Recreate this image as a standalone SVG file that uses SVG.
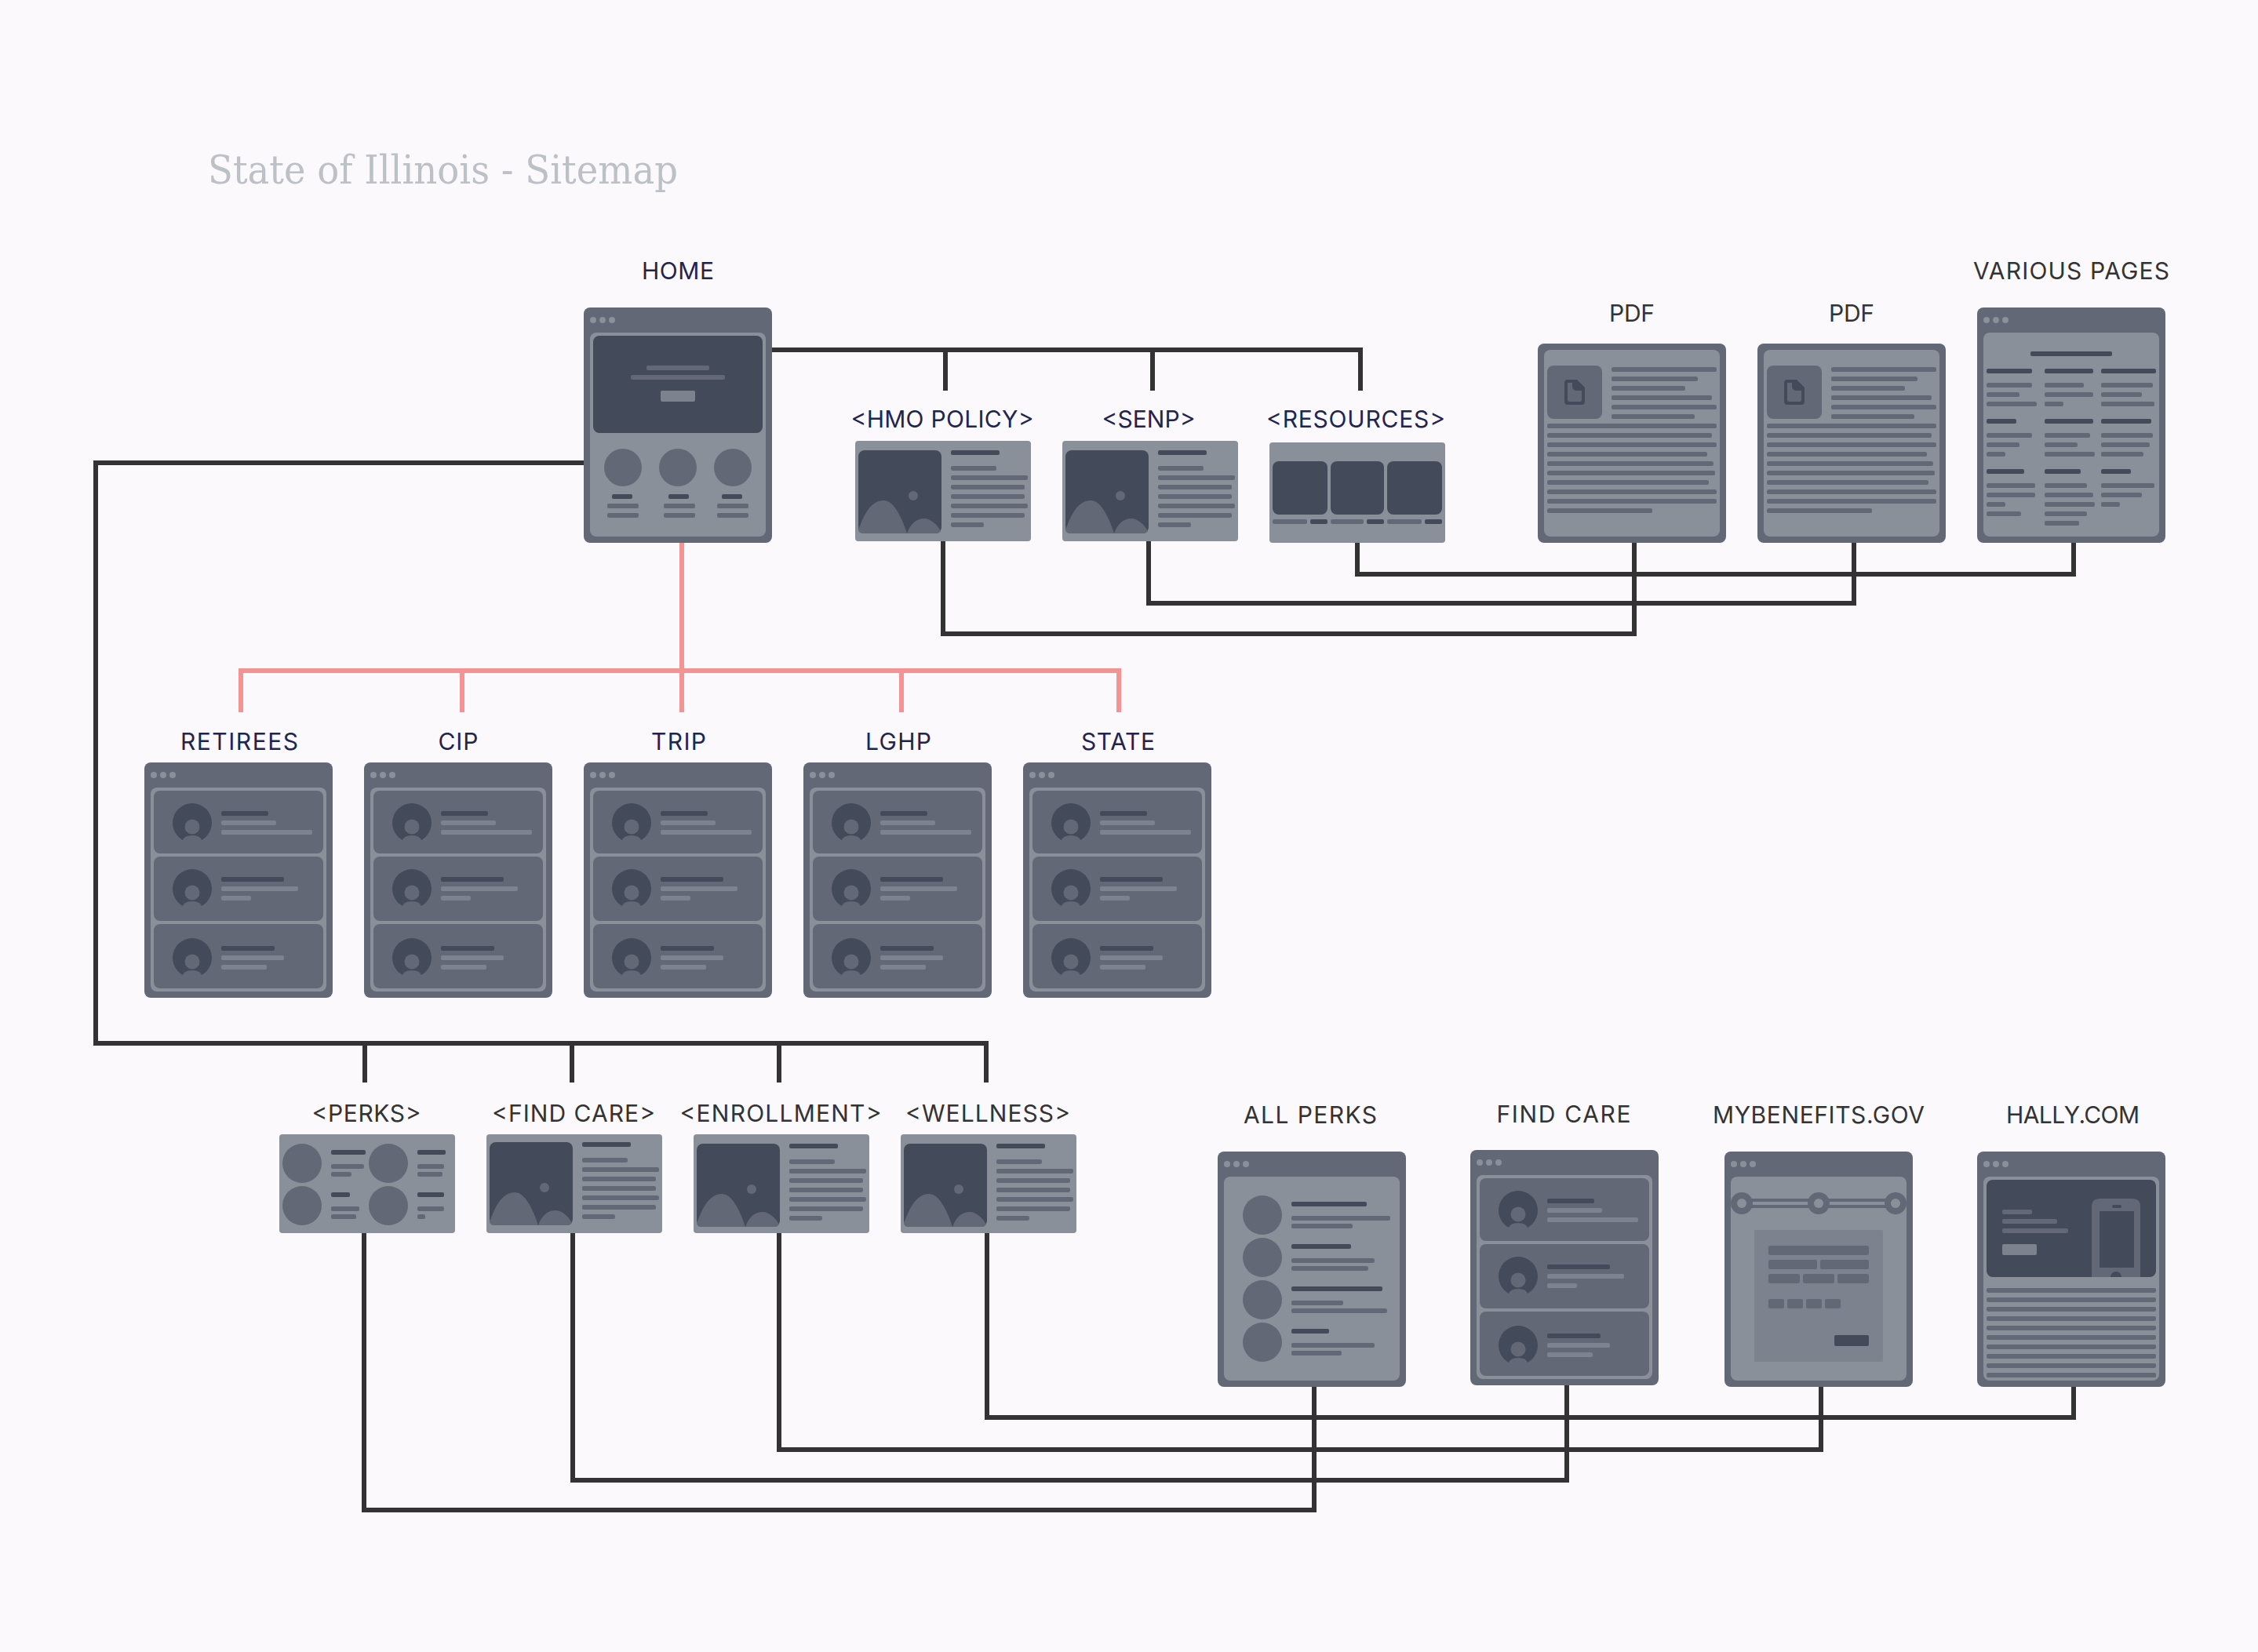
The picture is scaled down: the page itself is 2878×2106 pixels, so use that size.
<svg xmlns="http://www.w3.org/2000/svg" xmlns:xlink="http://www.w3.org/1999/xlink" width="2878" height="2106" viewBox="0 0 2878 2106">
<style>
.d{fill:#434a59}.m{fill:#626875}.l{fill:#8a9099}.x{fill:#7c828e}
rect.b{height:6px;rx:2px;ry:2px}
.t{font-family:"Inter","Liberation Sans",sans-serif;font-size:30px;text-anchor:middle;fill:#333333}
.n{fill:#1f2550}
.title{font-family:"DejaVu Serif","Liberation Serif",serif;font-stretch:condensed;font-size:50px;fill:#bcc0c7}
.c{fill:none;stroke:#333333;stroke-width:6}
.r{fill:none;stroke:#f49393;stroke-width:6}
</style>
<defs>
<g id="frame">
<rect class="m" width="240" height="300" rx="8"/>
<circle class="l" cx="12" cy="16" r="4"/><circle class="l" cx="24" cy="16" r="4"/><circle class="l" cx="36" cy="16" r="4"/>
<rect class="l" x="8" y="32" width="224" height="260" rx="8"/>
</g>
<g id="avatar">
<circle class="d" cx="0" cy="0" r="25"/>
<circle class="m" cx="0" cy="5" r="9.5"/>
<path class="m" d="M-26,27V22H-12Q-10,16 0,16Q10,16 12,22H26V27Z"/>
</g>
<g id="list">
<use href="#frame"/>
<rect class="m" x="12" y="36" width="216" height="80" rx="8"/>
<rect class="m" x="12" y="120" width="216" height="82" rx="8"/>
<rect class="m" x="12" y="206" width="216" height="82" rx="8"/>
<use href="#avatar" x="61" y="77"/><use href="#avatar" x="61" y="161"/><use href="#avatar" x="61" y="249"/>
<rect class="b d" x="98" y="62" width="60"/><rect class="b x" x="98" y="74" width="70"/><rect class="b x" x="98" y="86" width="116"/>
<rect class="b d" x="98" y="146" width="80"/><rect class="b x" x="98" y="158" width="98"/><rect class="b x" x="98" y="170" width="38"/>
<rect class="b d" x="98" y="234" width="68"/><rect class="b x" x="98" y="246" width="80"/><rect class="b x" x="98" y="258" width="58"/>
</g>
<g id="imgcard">
<rect class="d" x="4" y="12" width="106" height="106" rx="8"/>
<path class="m" d="M4,114C12,90 22,76 36,76C50,76 60,100 66,118H10Q5,118 4,114Z"/>
<path class="m" d="M66,118C70,106 78,99 88,99C96,99 104,106 109,115Q107,118 104,118Z"/>
<circle class="m" cx="74" cy="70" r="6"/>
<rect class="b d" x="122" y="12" width="62"/>
<rect class="b m" x="122" y="32" width="58"/><rect class="b m" x="122" y="44" width="98"/><rect class="b m" x="122" y="56" width="94"/><rect class="b m" x="122" y="68" width="94"/><rect class="b m" x="122" y="80" width="98"/><rect class="b m" x="122" y="92" width="94"/><rect class="b m" x="122" y="104" width="42"/>
</g>
<g id="pdf">
<rect class="m" width="240" height="254" rx="8"/>
<rect class="l" x="8" y="8" width="224" height="238" rx="8"/>
<rect class="m" x="12" y="28" width="70" height="68" rx="8"/>
<path class="d" d="M38,46H50L60,56V74Q60,78 56,78H38Q34,78 34,74V50Q34,46 38,46Z"/>
<path class="m" d="M38,50H44V54Q44,60 50,60H56V72Q56,74 54,74H40Q38,74 38,72Z"/>
<rect class="b m" x="94" y="30" width="134"/><rect class="b m" x="94" y="42" width="110"/><rect class="b m" x="94" y="54" width="94"/><rect class="b m" x="94" y="66" width="128"/><rect class="b m" x="94" y="78" width="134"/><rect class="b m" x="94" y="90" width="106"/>
<rect class="b m" x="12" y="102" width="216"/><rect class="b m" x="12" y="114" width="210"/><rect class="b m" x="12" y="126" width="216"/><rect class="b m" x="12" y="138" width="204"/><rect class="b m" x="12" y="150" width="212"/><rect class="b m" x="12" y="162" width="214"/><rect class="b m" x="12" y="174" width="206"/><rect class="b m" x="12" y="186" width="216"/><rect class="b m" x="12" y="198" width="216"/><rect class="b m" x="12" y="210" width="134"/>
</g>
</defs>
<rect width="2878" height="2106" fill="#fbf9fb"/>
<text class="title" x="265" y="234" textLength="599" lengthAdjust="spacingAndGlyphs">State of Illinois - Sitemap</text>

<g id="connectors">
<path class="c" d="M984,446H1737M1205,446V498M1469,446V498M1734,446V498"/>
<path class="c" d="M1730,692V732H2643V692"/>
<path class="c" d="M1464,690V769H2363V692"/>
<path class="c" d="M1202,690V808H2083V692"/>
<path class="c" d="M744,590H122V1330H1257V1380M465,1330V1380M729,1330V1380M993,1330V1380"/>
<path class="c" d="M464,1572V1925H1675V1768"/>
<path class="c" d="M730,1572V1887H1997V1766"/>
<path class="c" d="M993,1572V1848H2321V1768"/>
<path class="c" d="M1258,1572V1807H2643V1768"/>
<path class="r" d="M869,692V855M307,908V855H1426V908M589,855V908M869,855V908M1149,855V908"/>
</g>

<g id="node-home">
<text class="t n" x="864" y="356" textLength="92">HOME</text>
<g transform="translate(744,392)">
<use href="#frame"/>
<rect class="d" x="12" y="36" width="216" height="124" rx="8"/>
<rect class="b m" x="80" y="74" width="80"/><rect class="b m" x="60" y="86" width="120"/>
<rect class="x" x="98" y="106" width="44" height="14" rx="2"/>
<circle class="m" cx="50" cy="204" r="24"/><circle class="m" cx="120" cy="204" r="24"/><circle class="m" cx="190" cy="204" r="24"/>
<rect class="b d" x="36" y="238" width="26"/><rect class="b d" x="108" y="238" width="26"/><rect class="b d" x="176" y="238" width="26"/>
<rect class="b m" x="30" y="250" width="40"/><rect class="b m" x="102" y="250" width="40"/><rect class="b m" x="170" y="250" width="40"/>
<rect class="b m" x="30" y="262" width="40"/><rect class="b m" x="102" y="262" width="40"/><rect class="b m" x="170" y="262" width="40"/>
</g>
</g>

<g id="node-hmo-policy">
<text class="t n" x="1201" y="545" textLength="233">&lt;HMO POLICY&gt;</text>
<rect class="l" x="1090" y="562" width="224" height="128" rx="4"/><use href="#imgcard" x="1090" y="562"/>
</g>
<g id="node-senp">
<text class="t n" x="1464" y="545" textLength="119">&lt;SENP&gt;</text>
<rect class="l" x="1354" y="562" width="224" height="128" rx="4"/><use href="#imgcard" x="1354" y="562"/>
</g>
<g id="node-resources">
<text class="t n" x="1728" y="545" textLength="228">&lt;RESOURCES&gt;</text>
<g transform="translate(1618,564)">
<rect class="l" width="224" height="128" rx="4"/>
<rect class="d" x="4" y="24" width="70" height="68" rx="8"/><rect class="d" x="78" y="24" width="68" height="68" rx="8"/><rect class="d" x="150" y="24" width="70" height="68" rx="8"/>
<rect class="b m" x="4" y="98" width="44"/><rect class="b d" x="52" y="98" width="22"/><rect class="b m" x="78" y="98" width="42"/><rect class="b d" x="124" y="98" width="22"/><rect class="b m" x="150" y="98" width="44"/><rect class="b d" x="198" y="98" width="22"/>
</g>
</g>
<g id="node-pdf-1">
<text class="t" x="2080" y="410" textLength="58">PDF</text>
<use href="#pdf" x="1960" y="438"/>
</g>
<g id="node-pdf-2">
<text class="t" x="2360" y="410" textLength="58">PDF</text>
<use href="#pdf" x="2240" y="438"/>
</g>
<g id="node-various-pages">
<text class="t" x="2640" y="356" textLength="250">VARIOUS PAGES</text>
<g transform="translate(2520,392)">
<use href="#frame"/>
<rect class="b d" x="68" y="56" width="104"/>
<rect class="b d" x="12" y="78" width="58"/><rect class="b m" x="12" y="96" width="58"/><rect class="b m" x="12" y="108" width="42"/><rect class="b m" x="12" y="120" width="64"/>
<rect class="b d" x="12" y="142" width="38"/><rect class="b m" x="12" y="160" width="58"/><rect class="b m" x="12" y="172" width="42"/><rect class="b m" x="12" y="184" width="24"/>
<rect class="b d" x="12" y="206" width="48"/><rect class="b m" x="12" y="224" width="62"/><rect class="b m" x="12" y="236" width="62"/><rect class="b m" x="12" y="248" width="24"/><rect class="b m" x="12" y="260" width="44"/>
<rect class="b d" x="86" y="78" width="62"/><rect class="b m" x="86" y="96" width="50"/><rect class="b m" x="86" y="108" width="62"/><rect class="b m" x="86" y="120" width="24"/>
<rect class="b d" x="86" y="142" width="62"/><rect class="b m" x="86" y="160" width="58"/><rect class="b m" x="86" y="172" width="42"/><rect class="b m" x="86" y="184" width="64"/>
<rect class="b d" x="86" y="206" width="46"/><rect class="b m" x="86" y="224" width="54"/><rect class="b m" x="86" y="236" width="62"/><rect class="b m" x="86" y="248" width="64"/><rect class="b m" x="86" y="260" width="54"/><rect class="b m" x="86" y="272" width="44"/>
<rect class="b d" x="158" y="78" width="70"/><rect class="b m" x="158" y="96" width="66"/><rect class="b m" x="158" y="108" width="52"/><rect class="b m" x="158" y="120" width="68"/>
<rect class="b d" x="158" y="142" width="64"/><rect class="b m" x="158" y="160" width="66"/><rect class="b m" x="158" y="172" width="62"/><rect class="b m" x="158" y="184" width="54"/>
<rect class="b d" x="158" y="206" width="38"/><rect class="b m" x="158" y="224" width="68"/><rect class="b m" x="158" y="236" width="52"/><rect class="b m" x="158" y="248" width="24"/>
</g>
</g>

<g id="node-retirees"><text class="t n" x="305" y="956" textLength="150">RETIREES</text><use href="#list" x="184" y="972"/></g>
<g id="node-cip"><text class="t n" x="584" y="956" textLength="51">CIP</text><use href="#list" x="464" y="972"/></g>
<g id="node-trip"><text class="t n" x="865" y="956" textLength="70">TRIP</text><use href="#list" x="744" y="972"/></g>
<g id="node-lghp"><text class="t n" x="1145" y="956" textLength="84">LGHP</text><use href="#list" x="1024" y="972"/></g>
<g id="node-state"><text class="t n" x="1425" y="956" textLength="94">STATE</text><use href="#list" x="1304" y="972"/></g>

<g id="node-perks">
<text class="t" x="467" y="1430" textLength="139">&lt;PERKS&gt;</text>
<g transform="translate(356,1446)">
<rect class="l" width="224" height="126" rx="4"/>
<circle class="m" cx="29" cy="37" r="25"/><circle class="m" cx="139" cy="37" r="25"/><circle class="m" cx="29" cy="91" r="25"/><circle class="m" cx="139" cy="91" r="25"/>
<rect class="b d" x="66" y="20" width="44"/><rect class="b m" x="66" y="38" width="42"/><rect class="b m" x="66" y="48" width="26"/>
<rect class="b d" x="66" y="74" width="24"/><rect class="b m" x="66" y="92" width="36"/><rect class="b m" x="66" y="102" width="32"/>
<rect class="b d" x="176" y="20" width="36"/><rect class="b m" x="176" y="38" width="34"/><rect class="b m" x="176" y="48" width="32"/>
<rect class="b d" x="176" y="74" width="34"/><rect class="b m" x="176" y="92" width="34"/><rect class="b m" x="176" y="102" width="10"/>
</g>
</g>
<g id="node-find-care-card">
<text class="t" x="731" y="1430" textLength="208">&lt;FIND CARE&gt;</text>
<rect class="l" x="620" y="1446" width="224" height="126" rx="4"/><use href="#imgcard" x="620" y="1444"/>
</g>
<g id="node-enrollment">
<text class="t" x="995" y="1430" textLength="257">&lt;ENROLLMENT&gt;</text>
<rect class="l" x="884" y="1446" width="224" height="126" rx="4"/><use href="#imgcard" x="884" y="1446"/>
</g>
<g id="node-wellness">
<text class="t" x="1259" y="1430" textLength="210">&lt;WELLNESS&gt;</text>
<rect class="l" x="1148" y="1446" width="224" height="126" rx="4"/><use href="#imgcard" x="1148" y="1446"/>
</g>

<g id="node-all-perks">
<text class="t" x="1670" y="1432" textLength="170">ALL PERKS</text>
<g transform="translate(1552,1468)">
<use href="#frame"/>
<circle class="m" cx="57" cy="81" r="25"/><circle class="m" cx="57" cy="135" r="25"/><circle class="m" cx="57" cy="189" r="25"/><circle class="m" cx="57" cy="243" r="25"/>
<rect class="b d" x="94" y="64" width="96"/><rect class="b m" x="94" y="82" width="126"/><rect class="b m" x="94" y="92" width="78"/>
<rect class="b d" x="94" y="118" width="76"/><rect class="b m" x="94" y="136" width="106"/><rect class="b m" x="94" y="146" width="98"/>
<rect class="b d" x="94" y="172" width="116"/><rect class="b m" x="94" y="190" width="66"/><rect class="b m" x="94" y="200" width="122"/>
<rect class="b d" x="94" y="226" width="48"/><rect class="b m" x="94" y="244" width="106"/><rect class="b m" x="94" y="254" width="64"/>
</g>
</g>
<g id="node-find-care-page"><text class="t" x="1993" y="1431" textLength="171">FIND CARE</text><use href="#list" x="1874" y="1466"/></g>
<g id="node-mybenefits">
<text class="t" x="2318" y="1432" textLength="270">MYBENEFITS.GOV</text>
<g transform="translate(2198,1468)">
<use href="#frame"/>
<rect class="m" x="22" y="60" width="196" height="12"/><rect class="l" x="22" y="64" width="196" height="4"/>
<circle class="m" cx="22" cy="66" r="14"/><circle class="l" cx="22" cy="66" r="6"/><circle class="m" cx="120" cy="66" r="14"/><circle class="l" cx="120" cy="66" r="6"/><circle class="m" cx="218" cy="66" r="14"/><circle class="l" cx="218" cy="66" r="6"/>
<rect class="x" x="38" y="100" width="164" height="168" rx="2"/>
<rect class="m" x="56" y="120" width="128" height="12" rx="2"/>
<rect class="m" x="56" y="138" width="62" height="12" rx="2"/><rect class="m" x="122" y="138" width="62" height="12" rx="2"/>
<rect class="m" x="56" y="156" width="40" height="12" rx="2"/><rect class="m" x="100" y="156" width="40" height="12" rx="2"/><rect class="m" x="144" y="156" width="40" height="12" rx="2"/>
<rect class="m" x="56" y="188" width="20" height="12" rx="2"/><rect class="m" x="80" y="188" width="20" height="12" rx="2"/><rect class="m" x="104" y="188" width="20" height="12" rx="2"/><rect class="m" x="128" y="188" width="20" height="12" rx="2"/>
<rect class="d" x="140" y="234" width="44" height="14" rx="2"/>
</g>
</g>
<g id="node-hally">
<text class="t" x="2642" y="1432" textLength="170">HALLY.COM</text>
<g transform="translate(2520,1468)">
<use href="#frame"/>
<rect class="d" x="12" y="36" width="216" height="124" rx="8"/>
<rect class="b m" x="32" y="74" width="38"/><rect class="b m" x="32" y="86" width="70"/><rect class="b m" x="32" y="98" width="84"/>
<rect class="x" x="32" y="118" width="44" height="14" rx="2"/>
<path class="m" d="M146,160V70Q146,60 156,60H198Q208,60 208,70V160Z"/>
<rect class="d" x="156" y="76" width="44" height="72"/>
<rect class="d" x="172" y="68" width="12" height="4" rx="2"/>
<path class="d" d="M170,160A7,7 0 0 1 184,160Z"/>
<rect class="b m" x="12" y="174" width="216"/><rect class="b m" x="12" y="186" width="216"/><rect class="b m" x="12" y="198" width="216"/><rect class="b m" x="12" y="210" width="216"/><rect class="b m" x="12" y="222" width="216"/><rect class="b m" x="12" y="234" width="216"/><rect class="b m" x="12" y="246" width="216"/><rect class="b m" x="12" y="258" width="216"/><rect class="b m" x="12" y="270" width="216"/><rect class="b m" x="12" y="282" width="216"/>
</g>
</g>
</svg>
